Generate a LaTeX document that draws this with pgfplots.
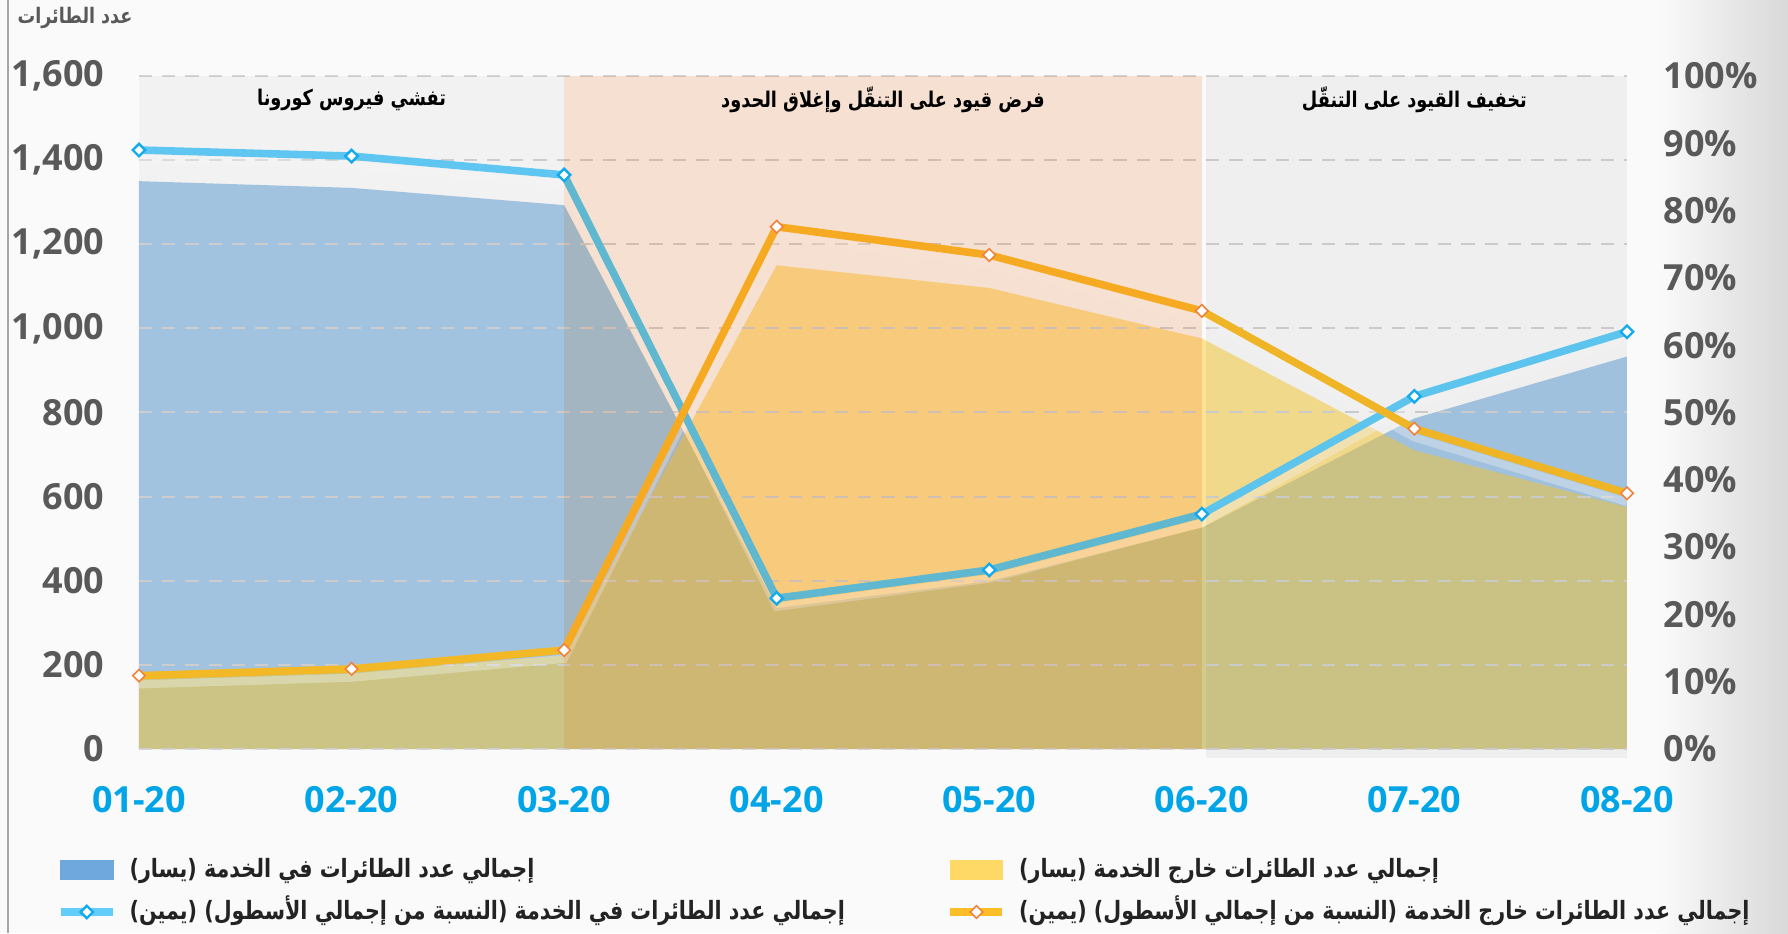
\documentclass[border=0pt]{standalone}
\usepackage{fontspec}
\usepackage{pgfplots}
\pgfplotsset{compat=1.18}
\TeXXeTstate=1
\setmainfont{Open Sans}
\newfontfamily\arabicfont[Script=Arabic, FakeStretch=0.82]{DejaVu Sans}

\definecolor{areablue}{RGB}{168,202,232}
\definecolor{areayel}{RGB}{255,205,45}
\definecolor{legblue}{RGB}{111,168,220}
\definecolor{legyel}{RGB}{255,217,102}
\definecolor{bline}{RGB}{98,205,248}
\definecolor{bmark}{RGB}{20,170,235}
\definecolor{yline}{RGB}{251,190,40}
\definecolor{ymark}{RGB}{240,130,60}
\definecolor{band1}{RGB}{247,247,247}
\definecolor{band2}{RGB}{250,229,214}
\definecolor{band3}{RGB}{244,244,244}
\definecolor{gridc}{RGB}{212,212,212}
\definecolor{tickgray}{RGB}{89,89,89}
\definecolor{xtickblue}{RGB}{0,165,232}
\definecolor{legtext}{RGB}{35,35,35}

\newcommand{\ar}[1]{\arabicfont\bfseries\beginR #1\endR}

\begin{document}
\begin{tikzpicture}
% page background, right edge shading, left rule
\fill[white!98!black] (0,0) rectangle (447pt,233.25pt);
\shade[left color=white!98!black, right color=black!15] (415pt,0) rectangle (447pt,233.25pt);
\draw[black!35, line width=0.5pt] (2pt,0) -- (2pt,233.25pt);

% left axis: aircraft counts (areas)
\begin{axis}[
  at={(34.75pt,46pt)}, anchor=south west,
  scale only axis, width=372pt, height=168.25pt,
  xmin=0, xmax=7, ymin=0, ymax=1600,
  clip=false,
  axis line style={draw=none}, tick style={draw=none},
  xtick={0,...,7},
  xticklabels={01-20,02-20,03-20,04-20,05-20,06-20,07-20,08-20},
  ytick={0,200,...,1600},
  scaled y ticks=false,
  yticklabel={\pgfmathprintnumber[assume math mode=true,fixed,precision=0,1000 sep={,}]{\tick}},
  xticklabel style={font=\bfseries\fontsize{9}{10}\selectfont, text=xtickblue, anchor=north, inner sep=0pt, yshift=-9.25pt},
  yticklabel style={font=\bfseries\fontsize{9}{10}\selectfont, text=tickgray, anchor=east, inner sep=0pt, xshift=-8.5pt},
  ymajorgrids,
  grid style={dash pattern=on 3.3pt off 2.5pt, line width=0.5pt, color=gridc},
  axis on top,
]
\addplot[draw=none, fill=areablue] coordinates {
  (0,1350)(1,1334)(2,1293)(3,335)(4,399)(5,526)(6,786)(7,933)
} \closedcycle;
\addplot[draw=none, fill=areayel, fill opacity=0.5] coordinates {
  (0,176)(1,187)(2,222)(3,1150)(4,1096)(5,976)(6,710)(7,575)
} \closedcycle;
\end{axis}

% right axis: shares of the fleet (lines), bands, legend
\begin{axis}[
  at={(34.75pt,46pt)}, anchor=south west,
  scale only axis, width=372pt, height=168.25pt,
  xmin=0, xmax=7, ymin=0, ymax=100,
  clip=false,
  axis line style={draw=none}, tick style={draw=none},
  xtick=\empty,
  ytick={0,10,...,100},
  yticklabel pos=right,
  yticklabel={\pgfmathprintnumber[assume math mode=true]{\tick}\%},
  yticklabel style={font=\bfseries\fontsize{9}{10}\selectfont, text=tickgray, anchor=west, inner sep=0pt, xshift=9pt},
  legend columns=2,
  legend cell align=left,
  legend style={at={(-0.0551,-0.1575)}, anchor=north west, draw=none, fill=none,
    inner sep=0pt, outer sep=0pt, row sep=3pt,
    nodes={inner sep=0pt, text height=5.5pt, text depth=2pt, text=legtext,
      font=\fontsize{6.3}{7}\selectfont},
    /tikz/every odd column/.append style={column sep=3.25pt},
    /tikz/every even column/.append style={column sep=0pt}},
]
% white shadows under the lines
\addplot[white, line width=2pt, opacity=0.35, yshift=-2.2pt, forget plot] coordinates {
  (0,89.0)(1,88.1)(2,85.3)(3,22.4)(4,26.6)(5,34.9)(6,52.4)(7,62.0)
};
\addplot[white, line width=2pt, opacity=0.35, yshift=-2.2pt, forget plot] coordinates {
  (0,10.9)(1,11.9)(2,14.7)(3,77.6)(4,73.4)(5,65.1)(6,47.6)(7,38.0)
};
\addplot[bline, line width=1.9pt, mark=square*, mark size=1.1pt,
  mark options={rotate=45, fill=white, draw=bmark, line width=0.6pt}, forget plot] coordinates {
  (0,89.0)(1,88.1)(2,85.3)(3,22.4)(4,26.6)(5,34.9)(6,52.4)(7,62.0)
};
\addplot[yline, line width=1.9pt, mark=square*, mark size=1.1pt,
  mark options={rotate=45, fill=white, draw=ymark, line width=0.4pt}, forget plot] coordinates {
  (0,10.9)(1,11.9)(2,14.7)(3,77.6)(4,73.4)(5,65.1)(6,47.6)(7,38.0)
};

% period bands, multiplied over everything below
\fill[band1, blend mode=multiply] (axis cs:0,0) rectangle (axis cs:2,100);
\fill[band2, blend mode=multiply] (axis cs:2,0) rectangle (axis cs:5,100);
\fill[band3, blend mode=multiply] (axis cs:5.02,-1.3) rectangle (axis cs:7,100);

\node[font=\fontsize{5.4}{6}\selectfont, text=black] at (axis cs:1,96.4) {\ar{تفشي فيروس كورونا}};
\node[font=\fontsize{5.4}{6}\selectfont, text=black] at (axis cs:3.5,96.4) {\ar{فرض قيود على التنقّل وإغلاق الحدود}};
\node[font=\fontsize{5.4}{6}\selectfont, text=black] at (axis cs:6,96.4) {\ar{تخفيف القيود على التنقّل}};
\node[font=\fontsize{5.35}{6}\selectfont, text=tickgray] at (axis description cs:-0.043,1.086) {\ar{عدد الطائرات}};

\addlegendimage{legend image code/.code={\fill[legblue] (0pt,-2.3pt) rectangle (13pt,2.3pt);}}
\addlegendentry{\makebox[204.25pt][l]{\ar{إجمالي عدد الطائرات في الخدمة (يسار)}}}
\addlegendimage{legend image code/.code={\fill[legyel] (0pt,-2.3pt) rectangle (13pt,2.3pt);}}
\addlegendentry{\ar{إجمالي عدد الطائرات خارج الخدمة (يسار)}}
\addlegendimage{legend image code/.code={\draw[bline, line width=1.9pt] (0pt,0pt) -- (13pt,0pt);
  \draw plot[mark=square*, mark size=1.1pt, mark options={rotate=45, fill=white, draw=bmark, line width=0.6pt}] coordinates {(6.5pt,0pt)};}}
\addlegendentry{\makebox[204.25pt][l]{\ar{إجمالي عدد الطائرات في الخدمة (النسبة من إجمالي الأسطول) (يمين)}}}
\addlegendimage{legend image code/.code={\draw[yline, line width=1.9pt] (0pt,0pt) -- (13pt,0pt);
  \draw plot[mark=square*, mark size=1.1pt, mark options={rotate=45, fill=white, draw=ymark, line width=0.4pt}] coordinates {(6.5pt,0pt)};}}
\addlegendentry{\ar{إجمالي عدد الطائرات خارج الخدمة (النسبة من إجمالي الأسطول) (يمين)}}
\end{axis}
\pgfresetboundingbox
\useasboundingbox (0,0) rectangle (447pt,233.25pt);
\end{tikzpicture}
\end{document}
